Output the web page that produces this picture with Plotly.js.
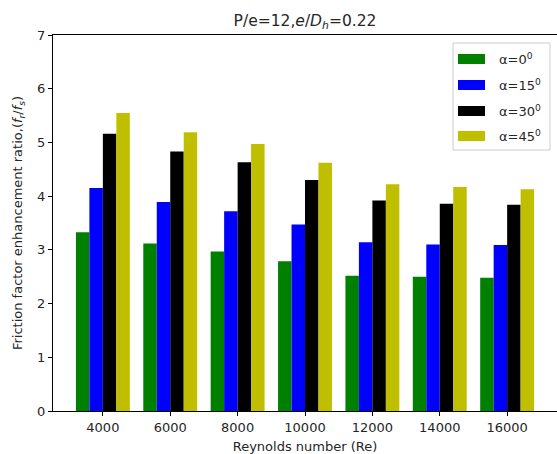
<!DOCTYPE html>
<html><head><meta charset="utf-8">
<script src="https://cdn.plot.ly/plotly-3.0.1.min.js"></script>
<style>html,body{margin:0;padding:0;background:#fff}</style>
</head><body>
<div id="chart" style="width:557px;height:454px"></div>
<script>
const reynolds = ["4000","6000","8000","10000","12000","14000","16000"];
const alpha0  = [3.33, 3.12, 2.97, 2.79, 2.52, 2.50, 2.48];
const alpha15 = [4.15, 3.89, 3.72, 3.47, 3.14, 3.10, 3.09];
const alpha30 = [5.16, 4.83, 4.63, 4.30, 3.92, 3.86, 3.84];
const alpha45 = [5.55, 5.19, 4.97, 4.62, 4.22, 4.17, 4.13];
const seriesNames = ["α=0<sup>0</sup>","α=15<sup>0</sup>","α=30<sup>0</sup>","α=45<sup>0</sup>"];
const colors = ["#008000","#0000ff","#000000","#bfbf00"];
const yTicks = [0,1,2,3,4,5,6,7];

const font = "DejaVu Sans, sans-serif";
const traces = [alpha0, alpha15, alpha30, alpha45].map((v,i)=>({
  type:"bar", x:reynolds, y:v, name:seriesNames[i],
  marker:{color:colors[i], line:{width:0}}
}));

// custom legend (matplotlib style, wide patches)
const legX0 = 0.7937, legX1 = 0.9861, legY0 = 0.6941, legY1 = 0.9787;
const patchX0 = 0.8036, patchX1 = 0.8571, textX = 0.881;
const rowY = [0.9362, 0.8670, 0.7979, 0.7314];
const halfH = 0.0133;
const shapes = [{type:"rect", xref:"paper", yref:"paper", x0:legX0, x1:legX1, y0:legY0, y1:legY1,
                 line:{color:"#cccccc", width:1}, fillcolor:"rgba(255,255,255,0.8)", layer:"above"}];
const annotations = [];
seriesNames.forEach((n,i)=>{
  shapes.push({type:"rect", xref:"paper", yref:"paper", x0:patchX0, x1:patchX1,
               y0:rowY[i]-halfH, y1:rowY[i]+halfH, line:{width:0}, fillcolor:colors[i], layer:"above"});
  annotations.push({xref:"paper", yref:"paper", x:textX, y:rowY[i], xanchor:"left", yanchor:"middle",
                    text:n, showarrow:false, font:{family:font, size:13, color:"#262626"}});
});

const layout = {
  width:557, height:454,
  margin:{l:53, r:0, t:35, b:43},
  paper_bgcolor:"#fff", plot_bgcolor:"#fff",
  font:{family:font, size:13, color:"#262626"},
  barmode:"group", bargap:0.2, bargroupgap:0,
  title:{text:"P/e=12,<i>e</i>/<i>D<sub>h</sub></i>=0.22", font:{family:font, size:15.5, color:"#262626"},
         x:0.5, xref:"paper", y:1, yref:"paper", yanchor:"bottom", pad:{b:9}},
  xaxis:{type:"category", range:[-0.74, 6.74], showgrid:false, zeroline:false,
         showline:true, linecolor:"#000", linewidth:1, mirror:true,
         ticks:"outside", ticklen:4, tickcolor:"#000",
         title:{text:"Reynolds number (Re)", font:{family:font, size:13}, standoff:10}},
  yaxis:{range:[0,7], tickvals:yTicks, showgrid:false, zeroline:false,
         showline:true, linecolor:"#000", linewidth:1, mirror:true,
         ticks:"outside", ticklen:4, tickcolor:"#000",
         title:{text:"Friction factor enhancement ratio,(<i>f<sub>r</sub></i>/<i>f<sub>s</sub></i>)", font:{family:font, size:13}, standoff:11}},
  shapes: shapes,
  annotations: annotations,
  showlegend:false
};
Plotly.newPlot("chart", traces, layout, {displayModeBar:false, staticPlot:true});
</script>
</body></html>
